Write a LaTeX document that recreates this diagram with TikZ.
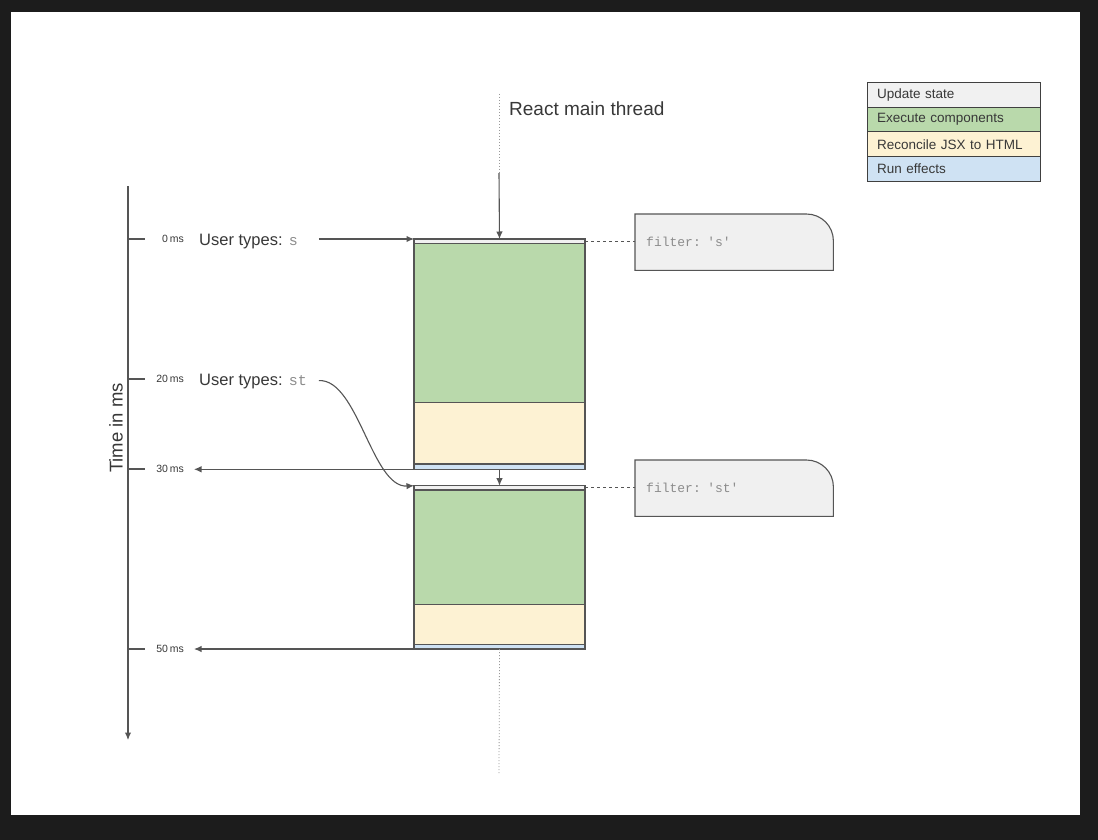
\documentclass[tikz,border=0pt]{standalone}
\usepackage{fontspec}
\setmainfont{Liberation Sans}
\setmonofont{Liberation Mono}
\usetikzlibrary{positioning,arrows.meta,calc}
\definecolor{pagedark}{HTML}{1C1C1C}
\definecolor{updcol}{HTML}{F1F1F1}
\definecolor{execol}{HTML}{B9D9AB}
\definecolor{reccol}{HTML}{FDF2D3}
\definecolor{effcol}{HTML}{CFE2F3}
\definecolor{edgecol}{HTML}{555555}
\definecolor{fltcol}{HTML}{F0F0F0}
\definecolor{lblcol}{HTML}{383838}
\definecolor{monocol}{HTML}{8C8C8C}
\pgfdeclarelayer{bg}
\pgfsetlayers{bg,main}
\tikzset{
  arr/.style={-{Latex[length=7.5pt,width=6.5pt]}},
  axline/.style={draw=edgecol, line width=1.1pt},
  dotline/.style={draw=black!40, line width=0.8pt, dash pattern=on 1pt off 2pt},
  dashline/.style={draw=edgecol, line width=0.9pt, dash pattern=on 3pt off 3pt},
  seg/.style={draw=edgecol, line width=1.3pt, inner sep=0pt, outer sep=0pt, minimum width=171pt, anchor=north west},
  lbl/.style={inner sep=0pt, text=lblcol},
  mslab/.style={lbl, anchor=east, font=\fontsize{10.5}{12}\selectfont},
  typlab/.style={lbl, anchor=base west, font=\fontsize{16.5}{19}\selectfont},
  fltbox/.style={anchor=north west, minimum width=198pt, minimum height=56pt, text width=176pt, inner xsep=11pt, align=left, text=monocol, font=\ttfamily\fontsize{13}{15}\selectfont},
  legrow/.style={draw=black!75, line width=1pt, outer sep=0pt, anchor=north west, minimum height=24.7pt, text width=153pt, inner xsep=10pt, align=left, text=lblcol, font=\fontsize{13.5}{15}\selectfont}
}
\begin{document}
\begin{tikzpicture}[x=1pt,y=-1pt]
\begin{pgfonlayer}{bg}
\fill[pagedark] (0,0) rectangle (1098,840);
\fill[white] (11,12) rectangle (1080,815);
\end{pgfonlayer}
\useasboundingbox (0,0) rectangle (1098,840);

% time axis
\coordinate (axtop) at (128,186);
\coordinate (axbot) at (128,740);
\draw[axline,arr] (axtop) -- (axbot);
\node[lbl, rotate=90, font=\fontsize{18.5}{21}\selectfont] (taxis) at (116,428) {Time in ms};
\foreach \y/\t in {239/0,379/20,469/30,649/50}{
  \draw[axline] (128,\y) -- (145,\y);
  \node[mslab] (ms\t) at (184,\y) {\t\,ms};
}

% main thread
\coordinate (thrtop) at (499,94);
\coordinate (thrin) at (499,173);
\coordinate (thrend) at (499,773);
\node[lbl, anchor=base west, font=\fontsize{19}{22}\selectfont] (thrlab) at (509,116) {React main thread};

% first render
\node[seg, fill=updcol, minimum height=4.3pt] (upd1) at (414,239) {};
\node[seg, fill=execol, minimum height=159pt, below=0pt of upd1] (exe1) {};
\node[seg, fill=reccol, minimum height=61.7pt, below=0pt of exe1] (rec1) {};
\node[seg, fill=effcol, minimum height=5.3pt, below=0pt of rec1] (eff1) {};

% second render
\node[seg, fill=updcol, minimum height=4.3pt] (upd2) at (414,485.7) {};
\node[seg, fill=execol, minimum height=114.3pt, below=0pt of upd2] (exe2) {};
\node[seg, fill=reccol, minimum height=40pt, below=0pt of exe2] (rec2) {};
\node[seg, fill=effcol, minimum height=4.7pt, below=0pt of rec2] (eff2) {};

\draw[dotline] (thrtop) -- (thrin);
\draw[axline,arr] (thrin) -- (upd1.north);
\draw[axline,arr] (eff1.south) -- (upd2.north);
\draw[dotline] (eff2.south) -- (thrend);

% user input
\node[typlab] (typ1) at (199,245) {User types: {\ttfamily\fontsize{15}{17}\selectfont\color{monocol}s}};
\node[typlab] (typ2) at (199,385) {User types: {\ttfamily\fontsize{15}{17}\selectfont\color{monocol}st}};
\draw[axline,arr,shorten <=21pt] (typ1.east |- upd1.north west) -- (upd1.north west);
\draw[axline,arr,shorten <=12pt] (typ2.east) .. controls (358,379) and (372,488) .. (upd2.north west);

\draw[axline,arr,shorten >=10pt] (eff1.south west) -- (eff1.south west -| ms30.east);
\draw[axline,arr,shorten >=10pt] (eff2.south west) -- (eff2.south west -| ms50.east);

% state boxes
\node[fltbox] (flt1) at (635,214) {filter: 's'};
\node[fltbox] (flt2) at (635,460) {filter: 'st'};
\begin{pgfonlayer}{bg}
\foreach \f in {flt1,flt2}
  \filldraw[fill=fltcol, draw=edgecol, line width=1.1pt] (\f.south west) -- (\f.north west)
    -- ($(\f.north east)+(-27,0)$) .. controls ($(\f.north east)+(-12,0)$) and ($(\f.north east)+(0,12)$) .. ($(\f.north east)+(0,27)$)
    -- (\f.south east) -- cycle;
\end{pgfonlayer}
\draw[dashline] (upd1.east) -- (upd1.east -| flt1.west);
\draw[dashline] (upd2.east) -- (upd2.east -| flt2.west);

% legend
\node[legrow, fill=updcol] (leg1) at (867,82.5) {Update state};
\node[legrow, fill=execol, below=0pt of leg1] (leg2) {Execute components};
\node[legrow, fill=reccol, below=0pt of leg2] (leg3) {Reconcile JSX to HTML};
\node[legrow, fill=effcol, below=0pt of leg3] (leg4) {Run effects};
\end{tikzpicture}
\end{document}
